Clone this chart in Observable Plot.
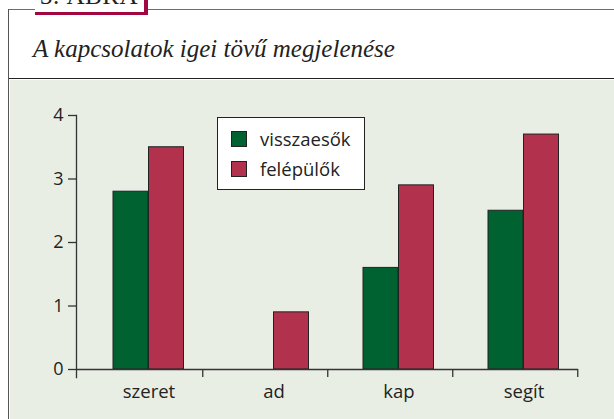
<!DOCTYPE html>
<html>
<head>
<meta charset="utf-8">
<script src="https://cdn.jsdelivr.net/npm/d3@7"></script>
<script src="https://cdn.jsdelivr.net/npm/@observablehq/plot@0.6"></script>
<style>
  html, body { margin: 0; padding: 0; background: #fff; overflow: hidden; }
  #root { position: relative; width: 614px; height: 419px; overflow: hidden; background: #fff; }
  .abs { position: absolute; }
  #topline { left: 8px; right: 0; top: 9px; height: 0; border-top: 1.7px solid #6e6e6e; }
  #leftline { left: 8px; top: 9px; bottom: 0; width: 0; border-left: 1.5px solid #555; }
  #badge { left: 35px; top: -22px; width: 109px; height: 34px; background: #fff; border-right: 4px solid #a3073f; border-bottom: 3px solid #a3073f; }
  #badge span { position: absolute; left: 5px; bottom: 4px; font-family: "Liberation Serif", serif; font-size: 25px; line-height: 1; color: #222; letter-spacing: 0.5px; }
  #title { left: 33px; top: 36px; font-family: "Liberation Serif", serif; font-style: italic; font-size: 25px; line-height: 1; color: #222; white-space: nowrap; }
  #sep { left: 9px; right: 0; top: 78px; height: 0; border-top: 1.5px solid #222; }
  #green { left: 9.5px; right: 0; top: 79.5px; bottom: 0; background: #e9eee5; }
  #chart { left: 0; top: 80px; }
  #legend { left: 217px; top: 117px; width: 146px; height: 71px; background: #fff; border: 1px solid #222; font-family: "Open Sans", sans-serif; font-size: 18.5px; color: #222; }
  #legend .row { position: absolute; left: 13px; display: flex; align-items: center; white-space: nowrap; line-height: 1; }
  #legend .sw { width: 14px; height: 14px; border: 1px solid #222; margin-right: 13px; }
</style>
</head>
<body>
<div id="root">
  <div class="abs" id="green"></div>
  <div class="abs" id="topline"></div>
  <div class="abs" id="leftline"></div>
  <div class="abs" id="badge"><span>3. ÁBRA</span></div>
  <div class="abs" id="title">A kapcsolatok igei tövű megjelenése</div>
  <div class="abs" id="sep"></div>
  <div class="abs" id="chart"></div>
  <div class="abs" id="legend"></div>
</div>
<script>
const categories = ["szeret", "ad", "kap", "segít"];
const seriesNames = ["visszaesők", "felépülők"];
const visszaesok = [2.8, 0, 1.6, 2.5];
const felepulok = [3.5, 0.9, 2.9, 3.7];
const yTicks = [0, 1, 2, 3, 4];
const colors = ["#006231", "#b2314d"];

const rowsA = categories.map((c, i) => ({cat: c, series: seriesNames[0], value: visszaesok[i]})).filter(d => d.value > 0);
const rowsB = categories.map((c, i) => ({cat: c, series: seriesNames[1], value: felepulok[i]})).filter(d => d.value > 0);

const W = 614, H = 339, mL = 76, mR = 36, mT = 35, mB = 50;
const bw = (W - mL - mR) / categories.length;

const plot = Plot.plot({
  width: W,
  height: H,
  marginLeft: mL,
  marginRight: mR,
  marginTop: mT,
  marginBottom: mB,
  style: {background: "transparent", fontFamily: "Open Sans, sans-serif", fontSize: "18px", color: "#222"},
  x: {domain: categories, padding: 0, axis: null, label: null},
  y: {domain: [0, 4], axis: null, label: null},
  color: {domain: seriesNames, range: colors},
  marks: [
    Plot.barY(rowsA, {x: "cat", y: "value", fill: "series", stroke: "#222", strokeWidth: 1, insetLeft: 36, insetRight: 54}),
    Plot.barY(rowsB, {x: "cat", y: "value", fill: "series", stroke: "#222", strokeWidth: 1, insetLeft: 71.5, insetRight: 18.5}),
    Plot.ruleY([0], {stroke: "#333", strokeWidth: 1.3}),
    Plot.frame({anchor: "left", stroke: "#333", strokeWidth: 1.3, insetBottom: -8}),
    Plot.axisY({ticks: yTicks, label: null, tickSize: 8, tickPadding: 5, stroke: "#333", strokeWidth: 1.3, fontSize: 18, tickFormat: d => String(d)}),
    Plot.axisX({label: null, tickSize: 0, tickPadding: 15, dx: 9, fontSize: 18.5}),
    Plot.axisX({label: null, tickSize: 8, tickFormat: () => "", dx: bw / 2, stroke: "#333", strokeWidth: 1.3})
  ]
});
document.getElementById("chart").appendChild(plot);

// legend built from series names and the plot's color scale
const colorScale = plot.scale("color");
const legend = document.getElementById("legend");
seriesNames.forEach((s, i) => {
  const row = document.createElement("div");
  row.className = "row";
  row.style.top = (i === 0 ? 12 : 42) + "px";
  const sw = document.createElement("div");
  sw.className = "sw";
  sw.style.background = colorScale.apply(s);
  const t = document.createElement("span");
  t.textContent = s;
  row.appendChild(sw);
  row.appendChild(t);
  legend.appendChild(row);
});
</script>
</body>
</html>
